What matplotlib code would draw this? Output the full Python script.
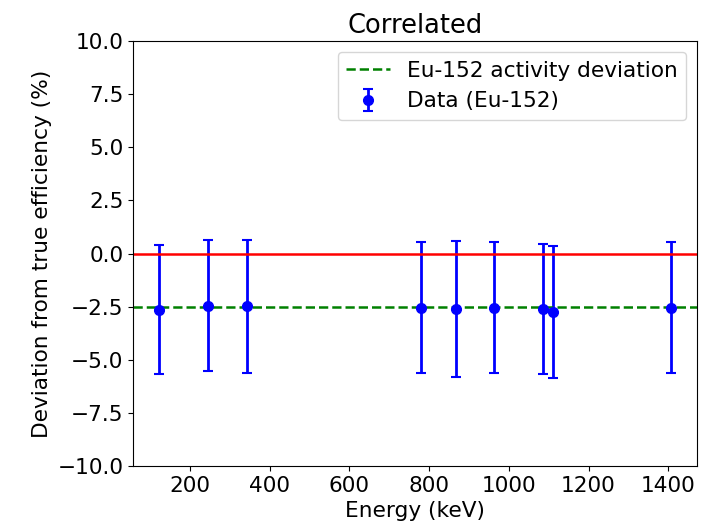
import numpy as np
import matplotlib
matplotlib.use("Agg")
import matplotlib.pyplot as plt

energies = [121.8, 244.7, 344.3, 778.9, 867.4, 964.1, 1085.8, 1112.1, 1408.0]
deviation = [-2.64, -2.45, -2.49, -2.54, -2.59, -2.54, -2.60, -2.75, -2.54]
dev_err = [3.05, 3.08, 3.12, 3.08, 3.20, 3.06, 3.07, 3.10, 3.07]
activity_dev = -2.5

plt.rcParams['font.size'] = 15.6
plt.rcParams['axes.titlesize'] = 18.5

fig = plt.figure(figsize=(7.15, 5.26), dpi=100)
ax = fig.add_subplot(111)
fig.subplots_adjust(left=0.186, right=0.975, top=0.922, bottom=0.114)

ax.errorbar(energies, deviation, yerr=dev_err, fmt='o', color='blue',
            capsize=3.5, elinewidth=2, capthick=1.5, markersize=7,
            label='Data (Eu-152)')
ax.axhline(0, color='red', lw=1.8)
ax.axhline(activity_dev, color='green', ls='--', lw=1.8,
           label='Eu-152 activity deviation')

ax.set_ylim(-10, 10)
ax.set_xlabel('Energy (keV)')
ax.set_ylabel('Deviation from true efficiency (%)')
ax.set_title('Correlated')
ax.legend(loc='upper right')

plt.savefig('out.png', dpi=100)
plt.close()
